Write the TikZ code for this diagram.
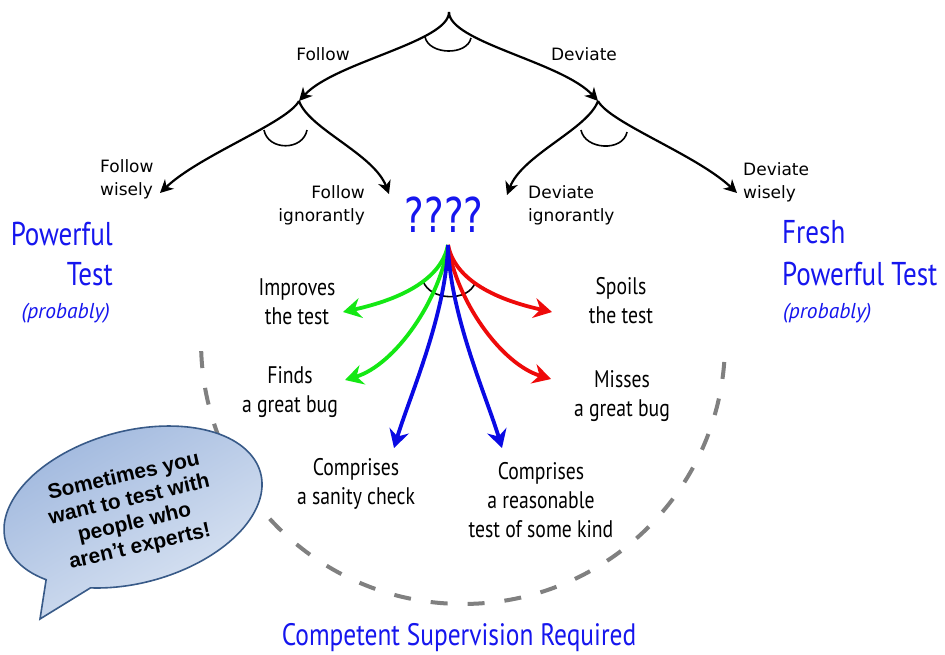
\documentclass[tikz,border=0pt]{standalone}
\usepackage{fontspec}
\setmainfont{DejaVu Sans}
\newfontfamily\handfont[FakeStretch=0.82]{PT Sans}
\newfontfamily\handplain{PT Sans}
\newfontfamily\bubblefont{Liberation Sans}
\newfontfamily\qmarkfont[FakeStretch=0.77]{DejaVu Sans}
\usetikzlibrary{arrows.meta}

\definecolor{inkblue}{RGB}{22,22,238}
\definecolor{fangreen}{RGB}{20,232,20}
\definecolor{fanred}{RGB}{238,10,10}
\definecolor{fanblue}{RGB}{10,10,228}
\definecolor{dashgray}{RGB}{128,128,128}
\definecolor{bubbledark}{RGB}{160,184,222}
\definecolor{bubblelight}{RGB}{222,231,244}
\definecolor{bubbleedge}{RGB}{56,90,136}

\begin{document}
\begin{tikzpicture}[x=1pt,y=-1pt,
  treeline/.style={line width=2.2pt,-{Stealth[length=13pt,width=13pt,inset=4pt]}},
  arcmark/.style={line width=1.6pt},
  fanarrow/.style={line width=3.8pt,-{Stealth[length=18pt,width=20pt,inset=6pt]}},
  treelabel/.style={font=\fontsize{17}{23}\selectfont,inner sep=0pt},
  handlabel/.style={font=\handfont\fontsize{24}{29}\selectfont,align=center,inner sep=0pt},
  bigblue/.style={text=inkblue,font=\handfont\fontsize{33}{40}\selectfont,inner sep=0pt},
  maybe/.style={text=inkblue,font=\handplain\itshape\fontsize{21.5}{26}\selectfont,inner sep=0pt},
  bubble/.style={draw=bubbleedge,line width=1.6pt,top color=bubbledark,bottom color=bubblelight,shading angle=30}
]
\useasboundingbox (0,0) rectangle (945,654);
\fill[white] (0,0) rectangle (945,654);

% branching points of the decision tree
\coordinate (root) at (449,12);
\coordinate (follow) at (299,101);
\coordinate (deviate) at (598,101);
\coordinate (fw) at (160,193);
\coordinate (fi) at (389,194);
\coordinate (di) at (507,195);
\coordinate (dw) at (737,193);

% first split
\draw[treeline] (root) .. controls +(0,30) and +(36,-39) .. (follow);
\draw[treeline] (root) .. controls +(0,30) and +(-36,-39) .. (deviate);
\draw[arcmark] (425,37) .. controls (429,55) and (467,56) .. (471,38);

% second split
\draw[treeline] (follow) .. controls +(-12,22) and +(40,-38) .. (fw);
\draw[treeline] (follow) .. controls +(10,28) and +(-15,-40) .. (fi);
\draw[arcmark] (264,130) .. controls (268,151) and (303,151) .. (307,130);
\draw[treeline] (deviate) .. controls +(-10,28) and +(15,-40) .. (di);
\draw[treeline] (deviate) .. controls +(12,22) and +(-40,-38) .. (dw);
\draw[arcmark] (581,130) .. controls (585,150) and (623,152) .. (627,132);

% tree labels
\node[treelabel,anchor=base] (lfollow) at (323,60) {Follow};
\node[treelabel,anchor=base] (ldeviate) at (584,60) {Deviate};
\node[treelabel,align=left,anchor=west] (lfw) at (100,179) {Follow\\wisely};
\node[treelabel,align=right,anchor=east] (lfi) at (365,205) {Follow\\ignorantly};
\node[treelabel,align=left,anchor=west] (ldi) at (528,205) {Deviate\\ignorantly};
\node[treelabel,align=left,anchor=west] (ldw) at (743,182) {Deviate\\wisely};

% outcomes of the wise branches
\node[bigblue,anchor=base east] (pw1) at (113,245) {Powerful};
\node[bigblue,anchor=base east] (pw2) at (113,285) {Test};
\node[maybe,anchor=base east] (pw3) at (110,318) {(probably)};
\node[bigblue,anchor=base west] (fr1) at (782,243) {Fresh};
\node[bigblue,anchor=base west] (fr2) at (782,285) {Powerful Test};
\node[maybe,anchor=base west] (fr3) at (783,318) {(probably)};

% the unknown middle
\node[text=inkblue,font=\qmarkfont\fontsize{48}{50}\selectfont,inner sep=0pt,anchor=base] (qq) at (444,232) {????};
\coordinate (q) at (448,245);
\coordinate (g1) at (343,312);
\coordinate (g2) at (345,380);
\coordinate (b1) at (394,448);
\coordinate (b2) at (502,448);
\coordinate (r1) at (552,312);
\coordinate (r2) at (551,379);

% supervision boundary
\draw[dashgray,line width=4pt,dash pattern=on 17pt off 20pt]
  (201.2,351.1) arc[start angle=178,end angle=2,radius=262];

\draw[arcmark] (423,281) .. controls (430,301) and (468,302) .. (475,283);
\draw[fanarrow,fangreen] (q) .. controls +(-8,40) and +(45,-10) .. (g1);
\draw[fanarrow,fangreen] (q) .. controls +(-8,55) and +(50,-15) .. (g2);
\draw[fanarrow,fanred] (q) .. controls +(8,40) and +(-45,-10) .. (r1);
\draw[fanarrow,fanred] (q) .. controls +(8,55) and +(-50,-15) .. (r2);
\draw[fanarrow,fanblue] (q) .. controls +(-2,70) and +(15,-50) .. (b1);
\draw[fanarrow,fanblue] (q) .. controls +(2,70) and +(-15,-50) .. (b2);

% outcome labels
\node[handlabel] (imp) at (297,302) {Improves\\the test};
\node[handlabel] (find) at (290,392) {Finds\\a great bug};
\node[handlabel] (san) at (356,484) {Comprises\\a sanity check};
\node[handlabel] (rea) at (541,500) {Comprises\\a reasonable\\test of some kind};
\node[handlabel] (spo) at (621,301) {Spoils\\the test};
\node[handlabel] (mis) at (622,396) {Misses\\a great bug};

\node[text=inkblue,font=\handfont\fontsize{31}{36}\selectfont,inner sep=0pt,anchor=base] (sup) at (459,645) {Competent Supervision Required};

% speech bubble
\begin{scope}[shift={(133,507)},rotate=15,y=1pt]
  \path[bubble] (242:132 and 76) arc[start angle=242,end angle=578.9,x radius=132,y radius=76]
    -- (-118.8,-84.1) -- cycle;
\end{scope}
\node[font=\bubblefont\bfseries\fontsize{21}{24}\selectfont,align=center,rotate=13,inner sep=0pt] (say) at (132,512)
  {Sometimes you\\want to test with\\people who\\aren’t experts!};
\end{tikzpicture}
\end{document}
